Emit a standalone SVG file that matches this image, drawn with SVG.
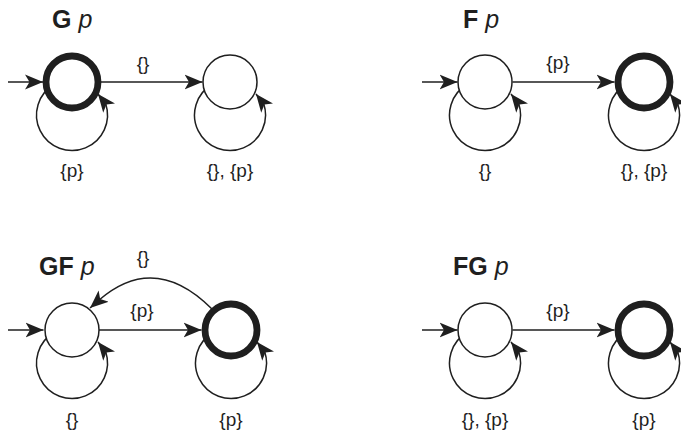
<svg xmlns="http://www.w3.org/2000/svg" width="681" height="437" viewBox="0 0 681 437">
<defs>
<marker id="ah" viewBox="0 -8 18 16" refX="18" refY="0" markerWidth="18" markerHeight="16" markerUnits="userSpaceOnUse" orient="auto">
<path d="M0,-7.5 L18,0 L0,7.5 L4.5,0 Z" fill="#1f1f1f"/>
</marker>
</defs>
<style>
.st{fill:#fff;stroke:#1f1f1f;stroke-width:1.5}
.acc{fill:#fff;stroke:#1f1f1f;stroke-width:6.8}
.e{fill:none;stroke:#1f1f1f;stroke-width:1.5;marker-end:url(#ah)}
.lb{font-family:"Liberation Sans",Arial,sans-serif;font-size:19px;fill:#1f1f1f;text-anchor:middle}
.tt{font-family:"Liberation Sans",Arial,sans-serif;font-size:25px;fill:#1f1f1f}
</style>
<rect width="681" height="437" fill="#fff"/>
<g id="titles">
<text class="tt" x="52" y="28"><tspan font-weight="bold">G</tspan> <tspan font-style="italic">p</tspan></text>
<text class="tt" x="463" y="28"><tspan font-weight="bold">F</tspan> <tspan font-style="italic">p</tspan></text>
<text class="tt" x="39" y="275"><tspan font-weight="bold">GF</tspan> <tspan font-style="italic">p</tspan></text>
<text class="tt" x="453" y="275"><tspan font-weight="bold">FG</tspan> <tspan font-style="italic">p</tspan></text>
</g>
<g id="connectors">
<path class="e" d="M8,82 L43,82"/>
<path class="e" d="M101,82 L202.5,82"/>
<path class="e" d="M54.25,84.26 A35.5,35.5 0 1 0 105.7,103.8 L98,94"/>
<path class="e" d="M212.25,84.26 A35.5,35.5 0 1 0 263.7,103.8 L256,94"/>
<path class="e" d="M422,82 L457.5,82"/>
<path class="e" d="M512.5,82 L614.5,82"/>
<path class="e" d="M467.25,84.26 A35.5,35.5 0 1 0 518.7,103.8 L511,94"/>
<path class="e" d="M626.25,84.26 A35.5,35.5 0 1 0 677.7,103.8 L670,94"/>
<path class="e" d="M8,330 L43.5,330"/>
<path class="e" d="M99,330 L201.5,330"/>
<path class="e" d="M212,309 Q155,252 99.4,299.75 L90,308"/>
<path class="e" d="M54.25,332.26 A35.5,35.5 0 1 0 105.7,351.8 L98,342"/>
<path class="e" d="M213.25,332.26 A35.5,35.5 0 1 0 264.7,351.8 L257,342"/>
<path class="e" d="M422,330 L457.5,330"/>
<path class="e" d="M512.5,330 L614.5,330"/>
<path class="e" d="M467.25,332.26 A35.5,35.5 0 1 0 518.7,351.8 L511,342"/>
<path class="e" d="M626.25,332.26 A35.5,35.5 0 1 0 677.7,351.8 L670,342"/>
<text class="lb" x="143" y="70">{}</text>
<text class="lb" x="72" y="177">{p}</text>
<text class="lb" x="230" y="177">{}, {p}</text>
<text class="lb" x="558" y="69">{p}</text>
<text class="lb" x="485" y="177">{}</text>
<text class="lb" x="644" y="177">{}, {p}</text>
<text class="lb" x="143" y="264">{}</text>
<text class="lb" x="142" y="317">{p}</text>
<text class="lb" x="72" y="426">{}</text>
<text class="lb" x="231" y="426">{p}</text>
<text class="lb" x="558" y="317">{p}</text>
<text class="lb" x="485" y="426">{}, {p}</text>
<text class="lb" x="644" y="426">{p}</text>
</g>
<g id="G-s0"><circle class="acc" cx="72" cy="82" r="26"/></g>
<g id="G-s1"><circle class="st" cx="230" cy="82" r="27"/></g>
<g id="F-s0"><circle class="st" cx="485" cy="82" r="27"/></g>
<g id="F-s1"><circle class="acc" cx="644" cy="82" r="26"/></g>
<g id="GF-s0"><circle class="st" cx="72" cy="330" r="27"/></g>
<g id="GF-s1"><circle class="acc" cx="231" cy="330" r="26"/></g>
<g id="FG-s0"><circle class="st" cx="485" cy="330" r="27"/></g>
<g id="FG-s1"><circle class="acc" cx="644" cy="330" r="26"/></g>
</svg>
